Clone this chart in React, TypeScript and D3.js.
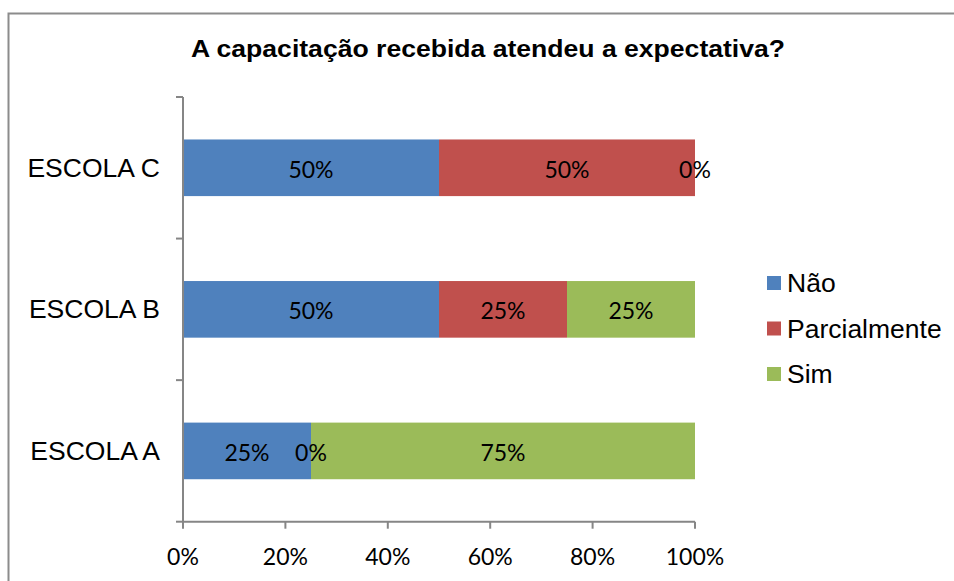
import React from "react";
import * as d3 from "d3";

const categories = ["ESCOLA C", "ESCOLA B", "ESCOLA A"];
const seriesNames = ["Não", "Parcialmente", "Sim"];
const naoValues = [0.5, 0.5, 0.25];
const parcialValues = [0.5, 0.25, 0];
const simValues = [0, 0.25, 0.75];
const xTicks = [0, 0.2, 0.4, 0.6, 0.8, 1];
const colors = ["#4F81BD", "#C0504D", "#9BBB59"];
const title = "A capacitação recebida atendeu a expectativa?";

export default function App() {
  const W = 954;
  const H = 581;
  const left = 183;
  const right = 695;
  const top = 97;
  const bottom = 521.7;

  const x = d3.scaleLinear().domain([0, 1]).range([left, right]);
  const y = d3
    .scaleBand<string>()
    .domain(categories)
    .range([top, bottom])
    .paddingInner(0.6)
    .paddingOuter(0.3);

  const rows = categories.map((c, i) => ({
    cat: c,
    "Não": naoValues[i],
    Parcialmente: parcialValues[i],
    Sim: simValues[i],
  }));
  const stack = d3.stack<any>().keys(seriesNames)(rows);

  const step = y.step();
  const catTicks = [0, 1, 2, 3].map((i) => top + i * step);
  const arial = "'Liberation Sans', Arial, sans-serif";
  const calibri = "Lato, 'Open Sans', sans-serif";
  const axisColor = "#868686";
  const fmt = d3.format(".0%");

  return (
    <svg
      width={W}
      height={H}
      style={{ position: "absolute", left: 0, top: 0, background: "#fff", overflow: "hidden" }}
    >
      <rect x={0} y={0} width={W} height={H} fill="#fff" />
      <path
        d={`M8.5,${H + 10} L8.5,13.5 L${W + 10},13.5`}
        fill="none"
        stroke="#8c8c8c"
        strokeWidth={2}
      />
      <text
        x={488}
        y={57}
        textAnchor="middle"
        fontFamily={arial}
        fontWeight="bold"
        fontSize={23}
        textLength={594}
        lengthAdjust="spacingAndGlyphs"
        fill="#000"
      >
        {title}
      </text>

      {stack.map((s, si) =>
        s.map((d, i) => (
          <rect
            key={`${si}-${i}`}
            x={x(d[0])}
            y={y(categories[i])}
            width={x(d[1]) - x(d[0])}
            height={y.bandwidth()}
            fill={colors[si]}
          />
        ))
      )}

      {stack.map((s, si) =>
        s.map((d, i) => (
          <text
            key={`l-${si}-${i}`}
            x={(x(d[0]) + x(d[1])) / 2}
            y={(y(categories[i]) as number) + y.bandwidth() / 2 + 10}
            textAnchor="middle"
            fontFamily={calibri}
            fontSize={23}
            fill="#000"
          >
            {fmt(d[1] - d[0])}
          </text>
        ))
      )}

      {/* y axis */}
      <line x1={left} x2={left} y1={top} y2={bottom} stroke={axisColor} strokeWidth={2} />
      {catTicks.map((t, i) => (
        <line key={`yt${i}`} x1={left - 7} x2={left} y1={t} y2={t} stroke={axisColor} strokeWidth={2} />
      ))}
      {categories.map((c) => (
        <text
          key={c}
          x={160}
          y={(y(c) as number) + y.bandwidth() / 2 + 9}
          textAnchor="end"
          fontFamily={arial}
          fontSize={26.5}
          fill="#000"
        >
          {c}
        </text>
      ))}

      {/* x axis */}
      <line x1={left} x2={right} y1={bottom} y2={bottom} stroke={axisColor} strokeWidth={2} />
      {xTicks.map((t) => (
        <g key={`xt${t}`}>
          <line x1={x(t)} x2={x(t)} y1={bottom} y2={bottom + 7} stroke={axisColor} strokeWidth={2} />
          <text
            x={x(t)}
            y={bottom + 43}
            textAnchor="middle"
            fontFamily={calibri}
            fontSize={23}
            fill="#000"
          >
            {fmt(t)}
          </text>
        </g>
      ))}

      {/* legend */}
      {seriesNames.map((n, i) => (
        <g key={n} transform={`translate(767, ${283 + i * 45.5})`}>
          <rect x={0} y={-7} width={14} height={14} fill={colors[i]} />
          <text x={20} y={9} fontFamily={arial} fontSize={26.5} fill="#000">
            {n}
          </text>
        </g>
      ))}
    </svg>
  );
}
